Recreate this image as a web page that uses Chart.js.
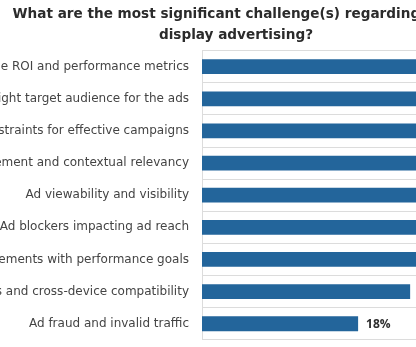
<!DOCTYPE html>
<html>
<head>
<meta charset="utf-8">
<script src="https://cdn.jsdelivr.net/npm/chart.js@4/dist/chart.umd.min.js"></script>
<style>
  html, body { margin: 0; padding: 0; background: #fff; overflow: hidden; }
  #wrap { position: absolute; left: -220px; top: 0; width: 912px; height: 360px; }
</style>
</head>
<body>
<div id="wrap"><canvas id="myChart" width="912" height="360"></canvas></div>
<script>
var categories = [
  "Measuring the ROI and performance metrics",
  "Reaching the right target audience for the ads",
  "Budget constraints for effective campaigns",
  "Ad placement and contextual relevancy",
  "Ad viewability and visibility",
  "Ad blockers impacting ad reach",
  "Aligning creative elements with performance goals",
  "Ad formats and cross-device compatibility",
  "Ad fraud and invalid traffic"
];
var values = [42, 38, 36, 33, 31, 29, 27, 24, 18];
var titleLines = ["What are the most significant challenge(s) regarding your", "display advertising?"];

// draws "18%" etc. next to the bar ends
var valueLabels = {
  id: 'valueLabels',
  afterDatasetsDraw: function(chart) {
    var ctx = chart.ctx;
    var meta = chart.getDatasetMeta(0);
    ctx.save();
    ctx.font = "bold 12px 'Open Sans'";
    ctx.fillStyle = "#2e2e2e";
    ctx.textBaseline = "middle";
    meta.data.forEach(function(bar, i) {
      ctx.fillText(values[i] + "%", bar.x + 8, bar.y + 1);
    });
    ctx.restore();
  }
};

var ctx = document.getElementById('myChart').getContext('2d');
var chart = new Chart(ctx, {
  type: 'bar',
  data: {
    labels: categories,
    datasets: [{
      data: values,
      backgroundColor: '#23659b',
      categoryPercentage: 1,
      barPercentage: 0.46
    }]
  },
  options: {
    indexAxis: 'y',
    responsive: false,
    animation: false,
    layout: { padding: { left: 0, right: 0, top: 0, bottom: 17.5 } },
    plugins: {
      legend: { display: false },
      tooltip: { enabled: false },
      title: {
        display: true,
        text: titleLines,
        color: '#2b2b2b',
        font: { family: "'DejaVu Sans'", size: 13.6, weight: 'bold', lineHeight: 1.55 },
        padding: { top: 4, bottom: 4.5 }
      }
    },
    scales: {
      x: { display: false, min: 0, max: 56.5 },
      y: {
        afterFit: function(scale) { scale.width = 422; },
        grid: { color: '#dcdcdc', drawTicks: false },
        border: { color: '#dcdcdc' },
        ticks: { color: '#444', padding: 13, font: { family: "'DejaVu Sans'", size: 12 } }
      }
    }
  },
  plugins: [valueLabels]
});
</script>
</body>
</html>
